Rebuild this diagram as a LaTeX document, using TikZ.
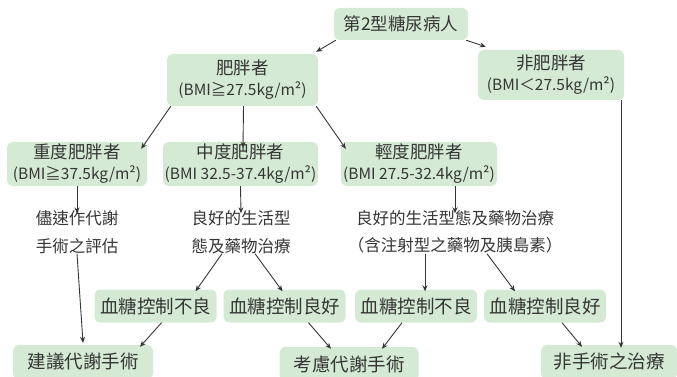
\documentclass[tikz,border=0pt]{standalone}
\usepackage{fontspec}
\setmainfont{Noto Sans CJK TC}
\usetikzlibrary{arrows.meta}
\definecolor{boxfill}{HTML}{D5EAD4}
\definecolor{ink}{HTML}{353535}
\newcommand{\bmi}[1]{{\fontsize{15.5}{18}\selectfont #1}}
\tikzset{
  gbox/.style={fill=boxfill, rounded corners=6pt, align=center, text=ink, inner sep=0pt, font=\fontsize{17.5}{21}\selectfont},
  bigbox/.style={gbox, font=\fontsize{18.5}{20}\selectfont},
  plain/.style={align=center, text=ink, inner sep=0pt, font=\fontsize{16.5}{27.5}\selectfont},
  arr/.style={draw=ink, line width=0.9pt, -{Stealth[length=6pt,width=5pt]}},
}
\begin{document}
\begin{tikzpicture}[x=1pt,y=-1pt]
\clip (0,0) rectangle (677,377);
\useasboundingbox (0,0) rectangle (677,377);
\node[gbox, minimum width=134, minimum height=32] (top) at (401,24) {第2型糖尿病人};
\node[gbox, minimum width=151, minimum height=52] (obese) at (242.5,80) {肥胖者\\\bmi{(BMI≧27.5kg/m²)}};
\node[gbox, minimum width=146, minimum height=50] (non) at (551,75) {非肥胖者\\\bmi{(BMI＜27.5kg/m²)}};
\node[gbox, minimum width=140, minimum height=44] (sev) at (77,164) {重度肥胖者\\\bmi{(BMI≧37.5kg/m²)}};
\node[gbox, minimum width=155, minimum height=44] (mod) at (240.5,164) {中度肥胖者\\\bmi{(BMI 32.5-37.4kg/m²)}};
\node[gbox, minimum width=156, minimum height=44] (mil) at (419,164) {輕度肥胖者\\\bmi{(BMI 27.5-32.4kg/m²)}};
\node[plain] (t1) at (77,232) {儘速作代謝\\手術之評估};
\node[plain] (t2) at (241,232) {良好的生活型\\態及藥物治療};
\node[plain] (t3) at (455,232) {良好的生活型態及藥物治療\\（含注射型之藥物及胰島素）};
\node[bigbox, minimum width=122, minimum height=33] (b1) at (155.5,306) {血糖控制不良};
\node[bigbox, minimum width=122, minimum height=33] (g1) at (284.5,306) {血糖控制良好};
\node[bigbox, minimum width=122, minimum height=33] (b2) at (416,306) {血糖控制不良};
\node[bigbox, minimum width=122, minimum height=33] (g2) at (545,306) {血糖控制良好};
\node[bigbox, minimum width=140, minimum height=34] (s1) at (83,362) {建議代謝手術};
\node[bigbox, minimum width=139, minimum height=34] (s2) at (349,364) {考慮代謝手術};
\node[bigbox, minimum width=136, minimum height=34] (s3) at (609,362) {非手術之治療};
% arrows
\draw[arr] ([xshift=2]top.south west) -- ([xshift=-2,yshift=2]obese.north east);
\draw[arr] ([xshift=-2]top.south east) -- ([xshift=8,yshift=3]non.north west);
\draw[arr] ([xshift=4]obese.south west) -- ([xshift=-6,yshift=-7]sev.north east);
\draw[arr] ([xshift=1]obese.south) -- ([xshift=2.5,yshift=-6]mod.north);
\draw[arr] ([xshift=-2]obese.south east) -- ([xshift=5,yshift=-7]mil.north west);
\draw[arr] (sev.south) -- ([yshift=-3]t1.north);
\draw[arr] (mod.south) -- ([yshift=-3]t2.north);
\draw[arr] ([xshift=36]mil.south) -- ([yshift=-3]t3.north);
\draw[arr] (t1.south) -- ([yshift=2]s1.north);
\draw[arr] ([xshift=-19]t2.south) -- ([xshift=40,yshift=-2]b1.north);
\draw[arr] ([xshift=14]t2.south) -- ([xshift=-2,yshift=-2]g1.north);
\draw[arr] ([xshift=-30]t3.south) -- ([xshift=9,yshift=-2]b2.north);
\draw[arr] ([xshift=32]t3.south) -- ([xshift=-30,yshift=-2]g2.north);
\draw[arr] ([xshift=6]b1.south) -- ([xshift=57,yshift=-2]s1.north);
\draw[arr] ([xshift=24]g1.south) -- ([xshift=-18,yshift=-2]s2.north);
\draw[arr] ([xshift=-14]b2.south) -- ([xshift=33,yshift=-2]s2.north);
\draw[arr] ([xshift=17]g2.south) -- ([xshift=-27,yshift=-2]s3.north);
\draw[arr] ([xshift=70]non.south) -- ([xshift=12,yshift=-3]s3.north);
\end{tikzpicture}
\end{document}
